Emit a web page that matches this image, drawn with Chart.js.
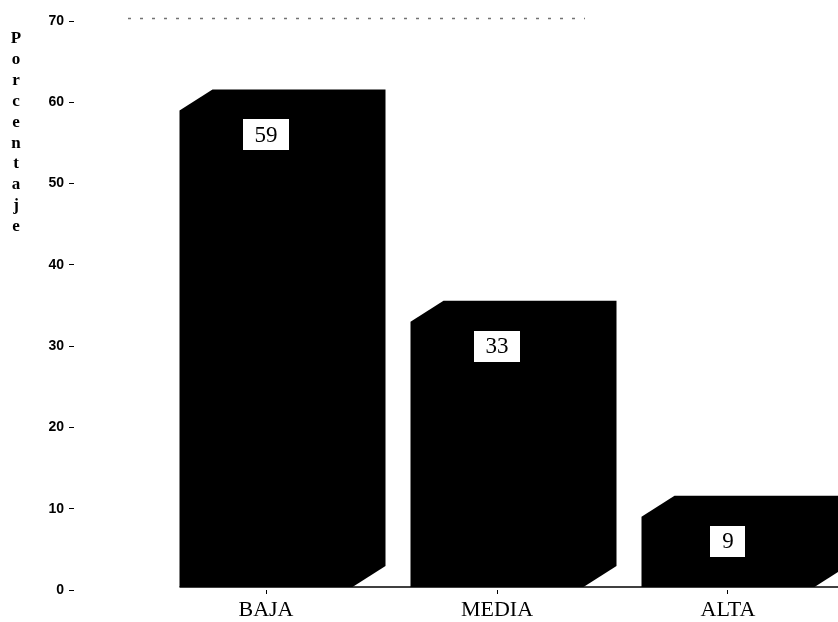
<!DOCTYPE html>
<html>
<head>
<meta charset="utf-8">
<script src="https://cdn.jsdelivr.net/npm/chart.js@4/dist/chart.umd.min.js"></script>
<style>
  html, body { margin: 0; padding: 0; background: #fff; overflow: hidden; }
  canvas { display: block; }
</style>
</head>
<body>
<canvas id="chart" width="838" height="622"></canvas>
<script>
// Distribution by level (percent)
const categories = ['BAJA', 'MEDIA', 'ALTA'];
const values = [59, 33, 9];
const yTickValues = [0, 10, 20, 30, 40, 50, 60, 70];
const axisTitle = 'Porcentaje';

// Depth of the extruded block look
const DEPTH_X = 33;
const DEPTH_Y = 21;
// floor line sits slightly above the zero position
const FLOOR_LIFT = 2.5;

const blockBars = {
  id: 'blockBars',
  afterDatasetsDraw(chart) {
    const ctx = chart.ctx;
    const meta = chart.getDatasetMeta(0);
    ctx.save();
    meta.data.forEach((bar, i) => {
      const p = bar.getProps(['x', 'y', 'base', 'width'], true);
      const l = p.x - p.width / 2;
      const r = p.x + p.width / 2;
      const b = p.base - FLOOR_LIFT;
      // full block silhouette: front, top and side faces
      ctx.fillStyle = '#000';
      ctx.beginPath();
      ctx.moveTo(l, b);
      ctx.lineTo(l, p.y);
      ctx.lineTo(l + DEPTH_X, p.y - DEPTH_Y);
      ctx.lineTo(r + DEPTH_X, p.y - DEPTH_Y);
      ctx.lineTo(r + DEPTH_X, b - DEPTH_Y);
      ctx.lineTo(r, b);
      ctx.closePath();
      ctx.fill();
      // value box
      const txt = String(values[i]);
      ctx.font = '23px "Liberation Serif", "Times New Roman", serif';
      const bw = txt.length > 1 ? 46 : 35;
      const bh = 31;
      const by = p.y + 9;
      ctx.fillStyle = '#fff';
      ctx.fillRect(Math.round(p.x - bw / 2), Math.round(by), bw, bh);
      ctx.fillStyle = '#000';
      ctx.textAlign = 'center';
      ctx.textBaseline = 'middle';
      ctx.fillText(txt, p.x, by + bh / 2 + 1);
    });
    // baseline
    const first = meta.data[0].getProps(['x', 'width', 'base'], true);
    ctx.strokeStyle = '#000';
    ctx.lineWidth = 1.5;
    ctx.beginPath();
    ctx.moveTo(first.x - first.width / 2, first.base - FLOOR_LIFT);
    ctx.lineTo(chart.width, first.base - FLOOR_LIFT);
    ctx.stroke();
    // faint frame line at the top
    ctx.strokeStyle = 'rgba(0,0,0,0.55)';
    ctx.lineWidth = 1.5;
    ctx.setLineDash([3, 9]);
    ctx.beginPath();
    ctx.moveTo(128, 18.5);
    ctx.lineTo(585, 18.5);
    ctx.stroke();
    ctx.restore();
  }
};

const verticalTitle = {
  id: 'verticalTitle',
  afterDraw(chart) {
    const ctx = chart.ctx;
    ctx.save();
    ctx.fillStyle = '#000';
    ctx.font = 'bold 17px "Liberation Serif", "Times New Roman", serif';
    ctx.textAlign = 'center';
    ctx.textBaseline = 'alphabetic';
    axisTitle.split('').forEach((ch, i) => {
      ctx.fillText(ch, 16, 43 + i * 20.9);
    });
    ctx.restore();
  }
};

new Chart(document.getElementById('chart'), {
  type: 'bar',
  data: {
    datasets: [{
      data: categories.map((c, i) => ({ x: i, y: values[i] })),
      backgroundColor: 'rgba(0,0,0,0)',
      borderWidth: 0,
      barThickness: 173
    }]
  },
  options: {
    responsive: false,
    devicePixelRatio: 1,
    animation: false,
    layout: { padding: { top: 21, left: 0, right: 0, bottom: 0 } },
    plugins: { legend: { display: false }, tooltip: { enabled: false } },
    scales: {
      x: {
        type: 'linear',
        offset: false,
        min: -0.8312,
        max: 2.4762,
        afterFit(scale) { scale.height = 32; },
        afterBuildTicks(scale) {
          scale.ticks = categories.map((c, i) => ({ value: i }));
        },
        border: { display: false },
        grid: { offset: false, drawOnChartArea: false, drawTicks: true, tickLength: 4, color: '#000', lineWidth: 1 },
        ticks: {
          autoSkip: false,
          maxRotation: 0,
          padding: 3,
          color: '#000',
          font: { family: '"Liberation Serif", "Times New Roman", serif', size: 22 },
          callback: (v) => categories[v] ?? ''
        }
      },
      y: {
        min: 0,
        max: 70,
        afterFit(scale) { scale.width = 74; },
        afterBuildTicks(scale) {
          scale.ticks = yTickValues.map(v => ({ value: v }));
        },
        border: { display: false },
        grid: { drawOnChartArea: false, drawTicks: true, tickLength: 5, color: '#000', lineWidth: 1 },
        ticks: {
          padding: 5,
          color: '#000',
          font: { family: '"Liberation Sans", Arial, sans-serif', size: 14, weight: 'bold' }
        }
      }
    }
  },
  plugins: [blockBars, verticalTitle]
});
</script>
</body>
</html>
